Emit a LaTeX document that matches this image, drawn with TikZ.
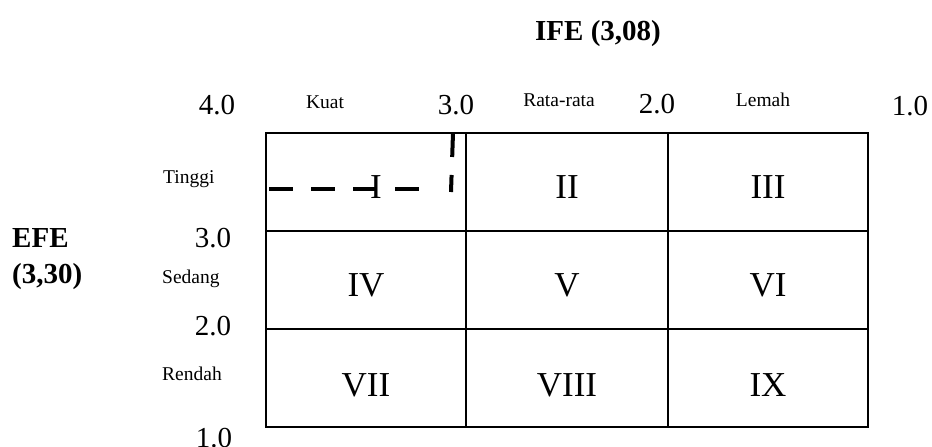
\documentclass[tikz,border=0pt]{standalone}
\usepackage{fontspec}
\setmainfont{Liberation Serif}
\begin{document}
\begin{tikzpicture}[x=1pt,y=-1pt,
  num/.style={inner sep=0pt,anchor=base,font=\fontsize{29}{29}\selectfont},
  lab/.style={inner sep=0pt,anchor=base,font=\fontsize{19.5}{20}\selectfont},
  sidelab/.style={inner sep=0pt,anchor=base west,font=\fontsize{19.5}{20}\selectfont},
  title/.style={inner sep=0pt,anchor=base,font=\fontsize{29}{30}\selectfont\bfseries},
  roman/.style={inner sep=0pt,anchor=base,font=\fontsize{35}{35}\selectfont},
  gridline/.style={line width=1.4pt,black},
  dash line/.style={line width=4pt,dash pattern=on 24pt off 18pt}]
\useasboundingbox (0,0) rectangle (932,447);
% grid
\draw[gridline] (266,133) rectangle (868,427);
\draw[gridline] (466,133) -- (466,427);
\draw[gridline] (668,133) -- (668,427);
\draw[gridline] (266,231) -- (868,231);
\draw[gridline] (266,329) -- (868,329);
% titles
\node[title] (ife) at (598,40) {IFE (3,08)};
\node[title,anchor=base west] (efe) at (12,247) {EFE};
\node[title,anchor=base west] (efev) at (12,283) {(3,30)};
% top scale
\node[num] (t4) at (217,114) {4.0};
\node[lab] (kuat) at (325,108) {Kuat};
\node[num] (t3) at (456,114) {3.0};
\node[lab] (rata) at (559,106) {Rata-rata};
\node[num] (t2) at (657,113) {2.0};
\node[lab] (lemah) at (763,106) {Lemah};
\node[num] (t1) at (910,115) {1.0};
% left scale
\node[sidelab] (tinggi) at (163,183) {Tinggi};
\node[num] (l3) at (213,247) {3.0};
\node[sidelab] (sedang) at (162,283) {Sedang};
\node[num] (l2) at (213,335) {2.0};
\node[sidelab] (rendah) at (162,380) {Rendah};
\node[num] (l1) at (214,447) {1.0};
% cell numerals
\node[roman] (c1) at (376,198) {I};
\node[roman] (c2) at (567,198) {II};
\node[roman] (c3) at (768,198) {III};
\node[roman] (c4) at (366,296) {IV};
\node[roman] (c5) at (567,296) {V};
\node[roman] (c6) at (768,296) {VI};
\node[roman] (c7) at (366,396) {VII};
\node[roman] (c8) at (567,396) {VIII};
\node[roman] (c9) at (768,396) {IX};
% dashed position lines
\coordinate (hs) at (269,189);
\coordinate (he) at (419,189);
\coordinate (vs) at (453,133);
\coordinate (ve) at (451,192);
\draw[dash line] (hs) -- (he);
\draw[dash line] (vs) -- (ve);
\end{tikzpicture}
\end{document}
